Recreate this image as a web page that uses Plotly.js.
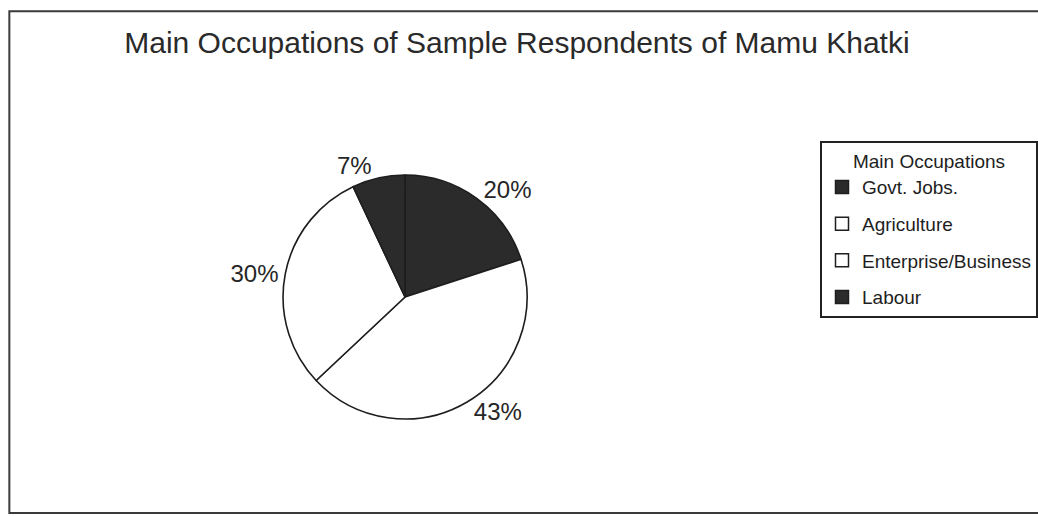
<!DOCTYPE html>
<html>
<head>
<meta charset="utf-8">
<script src="https://cdn.plot.ly/plotly-3.0.1.min.js"></script>
<style>
  html, body { margin: 0; padding: 0; background: #ffffff; }
  #chart { width: 1038px; height: 516px; }
</style>
</head>
<body>
<div id="chart"></div>
<script>
// Main occupations of sample respondents (percent)
const occupations = ["Govt. Jobs.", "Agriculture", "Enterprise/Business", "Labour"];
const shares = [20, 43, 30, 7];
const sliceColors = ["#2b2b2b", "#ffffff", "#ffffff", "#2b2b2b"];

const FONT = "Liberation Sans, Arial, sans-serif";
const INK = "#1e1e1e";

const pie = {
  type: "pie",
  labels: occupations,
  values: shares,
  sort: false,
  direction: "clockwise",
  rotation: 0,
  marker: { colors: sliceColors, line: { color: INK, width: 1.6 } },
  textposition: "outside",
  texttemplate: "%{value}%",
  textfont: { family: FONT, size: 24, color: "#262626" },
  domain: { x: [0.2727, 0.5077], y: [0.188, 0.6608] },
  showlegend: false
};

// Legend entries: one empty square-marker trace per occupation, so the
// entries can be spaced apart with legend groups.
const legendEntries = occupations.map((name, i) => ({
  type: "scatter",
  mode: "markers",
  x: [null], y: [null],
  name: name,
  legendgroup: "g" + i,
  marker: { symbol: "square", size: 13, color: sliceColors[i], line: { color: INK, width: 1.5 } },
  hoverinfo: "skip"
}));

const layout = {
  width: 1038,
  height: 516,
  margin: { l: 0, r: 0, t: 0, b: 0 },
  paper_bgcolor: "#ffffff",
  plot_bgcolor: "rgba(0,0,0,0)",
  xaxis: { visible: false },
  yaxis: { visible: false },
  title: {
    text: "Main Occupations of Sample Respondents of Mamu Khatki",
    font: { family: FONT, size: 30, color: "#2a2a2a" },
    x: 0.498, xanchor: "center", y: 0.917, yanchor: "middle"
  },
  showlegend: true,
  legend: {
    x: 0.79, xanchor: "left",
    y: 0.726, yanchor: "top",
    bgcolor: "#ffffff",
    bordercolor: "#222222",
    borderwidth: 2,
    font: { family: FONT, size: 19, color: INK },
    title: { text: "Main Occupations", side: "top center",
             font: { family: FONT, size: 19, color: INK } },
    traceorder: "grouped",
    tracegroupgap: 9,
    itemwidth: 30
  },
  shapes: [{
    type: "rect", xref: "paper", yref: "paper",
    x0: 0.009, x1: 1.02, y0: 0.006, y1: 0.978,
    line: { color: "#3a3a3a", width: 2 }
  }]
};

Plotly.newPlot("chart", [pie].concat(legendEntries), layout, { displayModeBar: false, staticPlot: true });
</script>
</body>
</html>
